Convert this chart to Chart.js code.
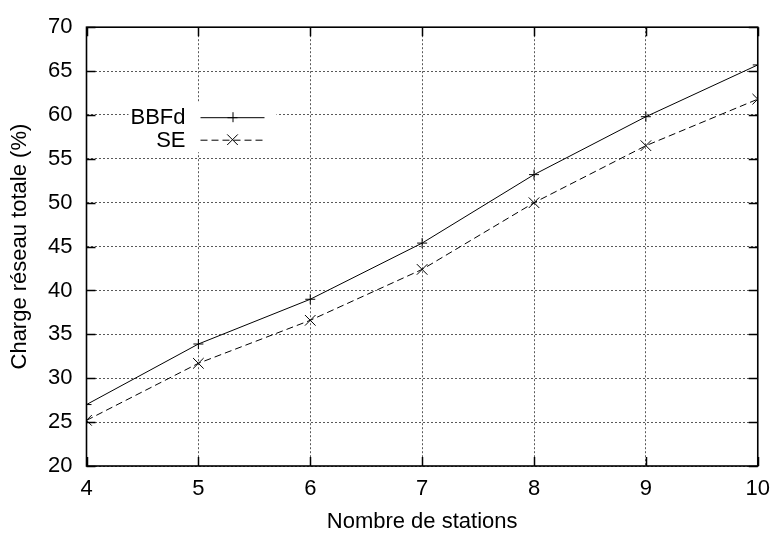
<!DOCTYPE html>
<html>
<head>
<meta charset="utf-8">
<script src="https://cdn.jsdelivr.net/npm/chart.js@4.4.1/dist/chart.umd.min.js"></script>
<style>
  html, body { margin: 0; padding: 0; background: #fff; }
  #wrap { width: 780px; height: 535px; }
</style>
</head>
<body>
<div id="wrap"><canvas id="c" width="780" height="535"></canvas></div>
<script>
// ---- data ----
const stations = [4, 5, 6, 7, 8, 9, 10];
const bbfd = [27.0, 33.9, 39.0, 45.4, 53.2, 59.8, 65.7];
const se = [25.2, 31.7, 36.6, 42.4, 50.0, 56.5, 61.8];
const seriesNames = ['BBFd', 'SE'];
const xTitle = 'Nombre de stations';
const yTitle = 'Charge réseau totale (%)';
const yMin = 20, yMax = 70, yStep = 5;
const xMin = 4, xMax = 10, xStep = 1;

const FONT = 'Liberation Sans, Arial, Helvetica, sans-serif';
const FS = 22;

const pts = (ys) => stations.map((x, i) => ({ x: x, y: ys[i] }));

// gnuplot-like frame, inward ticks and in-plot legend
const gnuplotFrame = {
  id: 'gnuplotFrame',
  beforeDatasetsDraw(chart) {
    const { ctx, chartArea: a, scales } = chart;
    const tl = 9;
    ctx.save();
    ctx.strokeStyle = '#000';
    ctx.lineWidth = 1.5;
    ctx.beginPath();
    scales.y.ticks.forEach(t => {
      const py = Math.round(scales.y.getPixelForValue(t.value)) + 0.5;
      ctx.moveTo(a.left, py); ctx.lineTo(a.left + tl, py);
      ctx.moveTo(a.right, py); ctx.lineTo(a.right - tl, py);
    });
    scales.x.ticks.forEach(t => {
      const px = Math.round(scales.x.getPixelForValue(t.value)) + 0.5;
      ctx.moveTo(px, a.bottom); ctx.lineTo(px, a.bottom - tl);
      ctx.moveTo(px, a.top); ctx.lineTo(px, a.top + tl);
    });
    ctx.stroke();
    ctx.lineWidth = 1.6;
    ctx.strokeRect(a.left, a.top, a.right - a.left, a.bottom - a.top);
    ctx.restore();
  },
  afterDatasetsDraw(chart) {
    const { ctx, chartArea: a } = chart;
    const ds = chart.data.datasets;
    // legend block in upper-left of the plot
    const textRight = a.left + 99;
    const lineL = a.left + 114, lineR = a.left + 178;
    const rowY = [a.top + 90, a.top + 112.5];
    ctx.save();
    ctx.fillStyle = '#fff';
    ctx.fillRect(a.left + 42, a.top + 75, 148, 50);
    ctx.font = FS + 'px ' + FONT;
    ctx.textAlign = 'right';
    ctx.textBaseline = 'middle';
    ds.forEach((d, i) => {
      const y = rowY[i];
      ctx.fillStyle = '#000';
      ctx.fillText(d.label, textRight, y + 1);
      ctx.strokeStyle = '#000';
      ctx.lineWidth = 1;
      ctx.setLineDash(d.borderDash || []);
      ctx.beginPath();
      ctx.moveTo(lineL, y + 0.5); ctx.lineTo(lineR, y + 0.5);
      ctx.stroke();
      ctx.setLineDash([]);
      const cx = (lineL + lineR) / 2, r = d.pointRadius;
      ctx.beginPath();
      if (d.pointStyle === 'cross') {
        ctx.moveTo(cx - r, y + 0.5); ctx.lineTo(cx + r, y + 0.5);
        ctx.moveTo(cx + 0.5, y - r); ctx.lineTo(cx + 0.5, y + r);
      } else {
        const o = r * Math.SQRT1_2;
        ctx.moveTo(cx - o, y - o); ctx.lineTo(cx + o, y + o);
        ctx.moveTo(cx - o, y + o); ctx.lineTo(cx + o, y - o);
      }
      ctx.stroke();
    });
    ctx.restore();
  }
};

new Chart(document.getElementById('c'), {
  type: 'line',
  data: {
    datasets: [
      {
        label: seriesNames[0],
        data: pts(bbfd),
        borderColor: '#000',
        borderWidth: 1,
        pointStyle: 'cross',
        pointRadius: 5,
        pointBorderColor: '#000',
        pointBorderWidth: 1,
        fill: false,
        tension: 0
      },
      {
        label: seriesNames[1],
        data: pts(se),
        borderColor: '#000',
        borderWidth: 1,
        borderDash: [7, 4],
        pointStyle: 'crossRot',
        pointRadius: 7.5,
        pointBorderColor: '#000',
        pointBorderWidth: 1,
        fill: false,
        tension: 0
      }
    ]
  },
  options: {
    responsive: false,
    animation: false,
    devicePixelRatio: 1,
    layout: { padding: { top: 15, right: 12.5, left: 0, bottom: 0 } },
    plugins: { legend: { display: false }, tooltip: { enabled: false } },
    scales: {
      x: {
        type: 'linear',
        min: xMin, max: xMax,
        ticks: { stepSize: xStep, color: '#000', font: { family: FONT, size: FS }, padding: 10, maxRotation: 0 },
        grid: { color: 'rgba(0,0,0,0.65)', lineWidth: 1, drawTicks: false },
        border: { display: false, dash: [2, 2] },
        title: { display: true, text: xTitle, color: '#000', font: { family: FONT, size: FS }, padding: { top: 0, bottom: 0 } },
        afterFit(s) { s.height = 69; }
      },
      y: {
        type: 'linear',
        min: yMin, max: yMax,
        ticks: { stepSize: yStep, color: '#000', font: { family: FONT, size: FS }, padding: 14 },
        grid: { color: 'rgba(0,0,0,0.65)', lineWidth: 1, drawTicks: false },
        border: { display: false, dash: [2, 2] },
        title: { display: true, text: yTitle, color: '#000', font: { family: FONT, size: FS }, padding: { top: 7, bottom: 0 } },
        afterFit(s) { s.width = 86.5; }
      }
    }
  },
  plugins: [gnuplotFrame]
});
</script>
</body>
</html>
